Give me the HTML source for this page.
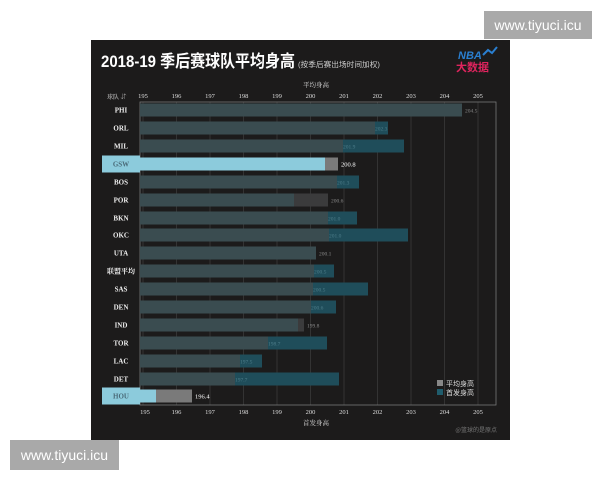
<!DOCTYPE html>
<html><head><meta charset="utf-8"><style>
html,body{margin:0;padding:0;background:#fff;width:600px;height:480px;overflow:hidden}
.wm{position:absolute;background:#a9a9a9;color:#fff;font-family:"Liberation Sans",sans-serif;font-size:14px;text-align:center}
</style></head><body>
<svg width="600" height="480" style="position:absolute;left:0;top:0" font-family="'Liberation Serif','Noto Serif CJK SC',serif">
<rect x="91" y="40" width="419" height="400" fill="#1c1b1b"/>
<text x="101" y="67" fill="#fff" font-size="17" font-weight="bold" textLength="194" lengthAdjust="spacingAndGlyphs" font-family="'Liberation Sans','Noto Sans CJK SC',sans-serif">2018-19 季后赛球队平均身高</text>
<text x="298" y="67" fill="#ccc" font-size="7.5" textLength="82" lengthAdjust="spacingAndGlyphs" font-family="'Liberation Sans','Noto Sans CJK SC',sans-serif">(按季后赛出场时间加权)</text>
<text x="458" y="59" fill="#2a7fd0" font-size="11" font-weight="bold" font-style="italic" font-family="'Liberation Sans',sans-serif">NBA</text>
<path d="M483 55 l5 -5 l4 3 l5 -6" stroke="#2a7fd0" stroke-width="2" fill="none"/>
<text x="456" y="71" fill="#e0245e" font-size="11" font-weight="bold" font-family="'Noto Sans CJK SC',sans-serif">大数据</text>
<text x="316" y="87" fill="#ddd" font-size="6.5" text-anchor="middle">平均身高</text>
<text x="316" y="425" fill="#ddd" font-size="6.5" text-anchor="middle">首发身高</text>
<text x="107" y="99" fill="#ddd" font-size="6">球队 ⇵</text>
<g id="grid" stroke="#3a3a3a" stroke-width="0.8">
<line x1="143" y1="102" x2="143" y2="405"/><line x1="176.5" y1="102" x2="176.5" y2="405"/><line x1="210" y1="102" x2="210" y2="405"/><line x1="243.5" y1="102" x2="243.5" y2="405"/><line x1="277" y1="102" x2="277" y2="405"/><line x1="310.5" y1="102" x2="310.5" y2="405"/><line x1="344" y1="102" x2="344" y2="405"/><line x1="377.5" y1="102" x2="377.5" y2="405"/><line x1="411" y1="102" x2="411" y2="405"/><line x1="444.5" y1="102" x2="444.5" y2="405"/><line x1="478" y1="102" x2="478" y2="405"/>
</g>
<g fill="#ddd" font-size="6.5" text-anchor="middle">
<text x="143" y="98">195</text><text x="176.5" y="98">196</text><text x="210" y="98">197</text><text x="243.5" y="98">198</text><text x="277" y="98">199</text><text x="310.5" y="98">200</text><text x="344" y="98">201</text><text x="377.5" y="98">202</text><text x="411" y="98">203</text><text x="444.5" y="98">204</text><text x="478" y="98">205</text>
<text x="145" y="414">195</text><text x="176.5" y="414">196</text><text x="210" y="414">197</text><text x="243.5" y="414">198</text><text x="277" y="414">199</text><text x="310.5" y="414">200</text><text x="344" y="414">201</text><text x="377.5" y="414">202</text><text x="411" y="414">203</text><text x="444.5" y="414">204</text><text x="478" y="414">205</text>
</g>
<rect x="140" y="102" width="356" height="303" fill="none" stroke="#777" stroke-width="0.8"/>
<g id="bars"></g>
<rect x="437" y="380" width="6" height="6" fill="#888"/>
<text x="446" y="386" fill="#ddd" font-size="7" font-family="'Noto Sans CJK SC',sans-serif">平均身高</text>
<rect x="437" y="389" width="6" height="6" fill="#1f5c6c"/>
<text x="446" y="395" fill="#ddd" font-size="7" font-family="'Noto Sans CJK SC',sans-serif">首发身高</text>
<text x="497" y="432" fill="#777" font-size="6" text-anchor="end" font-family="'Noto Sans CJK SC',sans-serif">@篮球的是原点</text>
</svg>
<div class="wm" style="left:484px;top:11px;width:108px;height:28px;line-height:28px">www.tiyuci.icu</div>
<div class="wm" style="left:10px;top:440px;width:109px;height:30px;line-height:30px">www.tiyuci.icu</div>
<script>
var rows=[["PHI",110,462,462,"204.5",0],["ORL",128,375,388,"202.3",0],["MIL",146,343,404,"201.9",0],["GSW",164,338,325,"200.8",1],["BOS",182,337,359,"201.3",0],["POR",200,328,294,"200.6",0],["BKN",218,328,357,"201.0",0],["OKC",235,329,408,"201.0",0],["UTA",253,316,316,"200.1",0],["联盟平均",271,314,334,"200.5",0],["SAS",289,313,368,"200.5",0],["DEN",307,311,336,"200.6",0],["IND",325,304,298,"199.8",0],["TOR",343,268,327,"198.7",0],["LAC",361,240,262,"197.5",0],["DET",379,235,339,"197.7",0],["HOU",396,192,156,"196.4",1]];
var s="";
rows.forEach(function(r){var y=r[1]-6.5,g=r[2],t=r[3],hi=r[5];
if(hi){s+='<rect x="102" y="'+(y-2)+'" width="38" height="17" fill="#8ccbdc"/>';
s+='<rect x="140" y="'+y+'" width="'+(g-140)+'" height="13" fill="#7a7a7a"/>';
s+='<rect x="140" y="'+y+'" width="'+(t-140)+'" height="13" fill="#8ccbdc"/>';
s+='<text x="'+(g+3)+'" y="'+(r[1]+2.5)+'" fill="#fff" font-size="6.5">'+r[4]+'</text>';
s+='<text x="121" y="'+(r[1]+2.5)+'" fill="#4a6a78" font-size="7" font-weight="bold" text-anchor="middle">'+r[0]+'</text>';}
else{var m=Math.min(g,t),M=Math.max(g,t);
s+='<rect x="140" y="'+y+'" width="'+(M-140)+'" height="13" fill="'+(t>g?'#1f4d5a':'#3b3b3c')+'"/>';
s+='<rect x="140" y="'+y+'" width="'+(m-140)+'" height="13" fill="#3a4c50"/>';
var lx=t>g+8?g:M+3;
s+='<text x="'+lx+'" y="'+(r[1]+2.5)+'" fill="'+(t>g+8?'#4d7d8a':'#888')+'" font-size="5.5">'+r[4]+'</text>';
s+='<text x="121" y="'+(r[1]+2.5)+'" fill="#eee" font-size="7" font-weight="bold" text-anchor="middle">'+r[0]+'</text>';}
});
document.getElementById("bars").innerHTML=s;
</script>
</body></html>
